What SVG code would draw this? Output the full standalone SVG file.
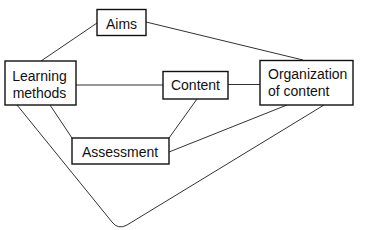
<svg xmlns="http://www.w3.org/2000/svg" width="369" height="230" viewBox="0 0 369 230">
<style>
.box{fill:#fff;stroke:#111;stroke-width:1.4}
.t{font-family:"Liberation Sans",Arial,sans-serif;font-size:14px;fill:#111}
.c{text-anchor:middle}
.ln{fill:none;stroke:#333;stroke-width:1}
</style>
<rect width="369" height="230" fill="#fff"/>
<g id="connectors">
<line class="ln" x1="97" y1="23" x2="41" y2="61"/>
<line class="ln" x1="146" y1="22" x2="303" y2="60"/>
<line class="ln" x1="76" y1="85" x2="163" y2="85"/>
<line class="ln" x1="228" y1="84.5" x2="260" y2="84.5"/>
<line class="ln" x1="50" y1="105" x2="72" y2="138"/>
<line class="ln" x1="197" y1="99" x2="169" y2="138"/>
<line class="ln" x1="287" y1="105" x2="169" y2="152"/>
<path class="ln" d="M17,105 L112,222 Q118,230 127,225 L324,105"/>
</g>
<g id="aims">
<rect class="box" x="97" y="9.5" width="49" height="26"/>
<text class="t c" x="121.5" y="29">Aims</text>
</g>
<g id="learning-methods">
<rect class="box" x="5" y="61" width="71" height="44"/>
<text class="t c" x="39.5" y="80.5">Learning</text>
<text class="t c" x="39.5" y="97.5">methods</text>
</g>
<g id="content">
<rect class="box" x="163" y="71.5" width="65" height="27.5"/>
<text class="t c" x="195.5" y="90">Content</text>
</g>
<g id="organization">
<rect class="box" x="260" y="60.5" width="93" height="44.5"/>
<text class="t" x="268" y="78.5">Organization</text>
<text class="t" x="268" y="96">of content</text>
</g>
<g id="assessment">
<rect class="box" x="72" y="138" width="97" height="26"/>
<text class="t c" x="120" y="156.5">Assessment</text>
</g>
</svg>
